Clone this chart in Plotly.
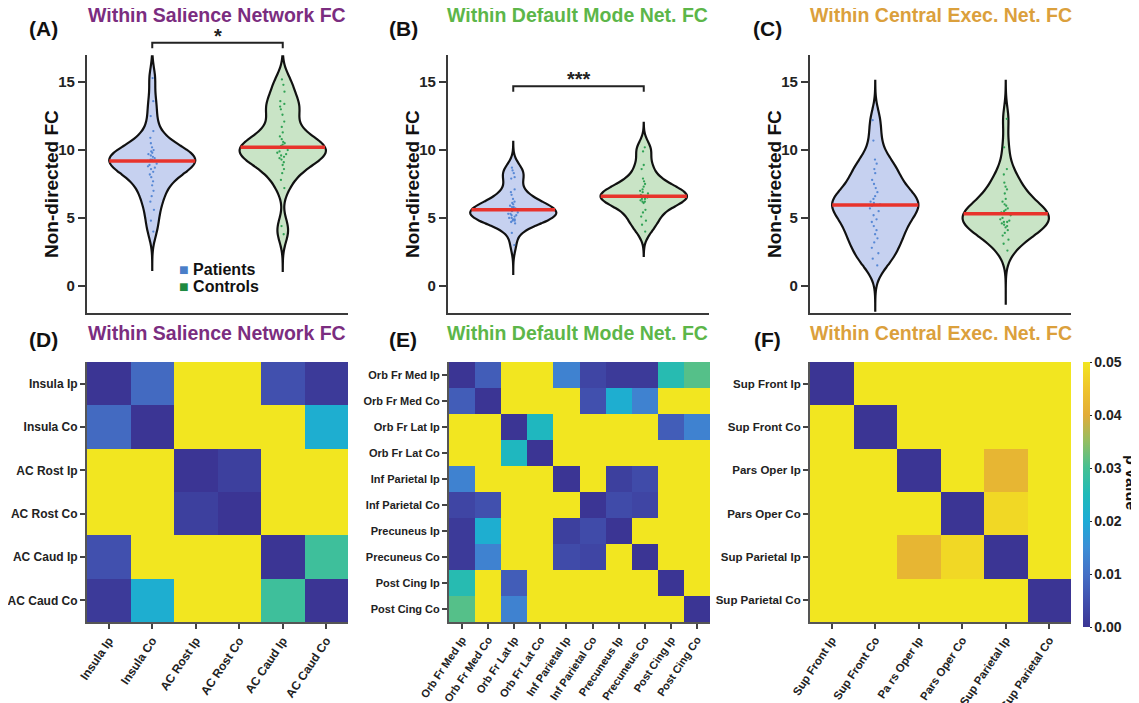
import numpy as np
import plotly.graph_objects as go

PAGE_W, PAGE_H = 1139, 703
OFF = 8                      # the html body margin shifts the figure by 8 px
W, H = PAGE_W - OFF, PAGE_H - OFF

# ---------------- data ----------------
groups = ["Patients", "Controls"]

sn_patients = [15.3, 13.6, 12.5, 11.4, 10.9, 10.5, 10.2, 10.0, 9.9, 9.8, 9.7, 9.6, 9.5, 9.4, 9.3,
               9.3, 9.2, 9.2, 9.0, 8.9, 8.8, 8.7, 8.6, 8.4, 8.2, 8.0, 7.7, 7.4, 7.0, 6.6, 6.2, 5.6,
               4.8, 4.0]
sn_controls = [15.2, 14.8, 14.3, 13.6, 13.4, 13.2, 13.0, 12.6, 12.1, 11.7, 11.3, 11.0, 10.8, 10.6, 10.5,
               10.4, 10.3, 10.2, 10.2, 10.0, 9.9, 9.8, 9.7, 9.6, 9.5, 9.4, 9.3, 9.1, 8.9, 8.6, 8.3, 7.8,
               7.2, 4.4, 3.8]
dmn_patients = [8.7, 8.5, 8.3, 8.0, 7.9, 7.1, 6.9, 6.7, 6.4, 6.2, 6.1, 6.0, 5.9, 5.8, 5.8, 5.7, 5.7,
                5.6, 5.6, 5.5, 5.4, 5.3, 5.3, 5.2, 5.2, 5.1, 5.0, 5.0, 4.9, 4.9, 4.8, 4.8, 4.7, 4.6,
                3.9, 3.0]
dmn_controls = [10.2, 9.9, 8.9, 8.6, 7.9, 7.7, 7.5, 7.3, 7.1, 7.0, 6.9, 6.8, 6.7, 6.6, 6.5, 6.4, 6.4,
                6.3, 6.2, 6.2, 6.1, 5.6, 5.4, 5.1, 4.8, 4.5, 4.0]
cen_patients = [12.2, 10.7, 9.3, 9.0, 8.6, 8.3, 7.8, 7.5, 7.2, 6.9, 6.6, 6.4, 6.2, 6.1, 6.0, 5.9, 5.7,
                5.5, 5.2, 4.9, 4.7, 4.4, 4.1, 3.8, 3.5, 3.2, 2.8, 2.4, 2.0, 1.5]
cen_controls = [12.3, 10.2, 8.6, 8.2, 7.6, 7.3, 7.1, 6.8, 6.4, 6.2, 6.0, 5.9, 5.7, 5.6, 5.5, 5.4, 5.3,
                5.2, 5.0, 4.9, 4.8, 4.7, 4.7, 4.6, 4.5, 4.4, 4.3, 4.1, 3.9, 3.7, 3.4, 3.1, 2.6]

spans = {
    "sn": ([1.1, 16.9], [1.1, 16.9]),
    "dmn": ([0.8, 10.6], [2.2, 12.0]),
    "cen": ([-1.9, 15.1], [-1.4, 15.1]),
}
bandwidths = {"sn": 0.8, "dmn": 0.6, "cen": 0.9}

# significance brackets: (panel, level, label)
sig_marks = [("sn", 17.9, "*"), ("dmn", 14.7, "***")]

y_ticks = [0, 5, 10, 15]
y_range = [-2, 17]

sn_regions = ["Insula Ip", "Insula Co", "AC Rost Ip", "AC Rost Co", "AC Caud Ip", "AC Caud Co"]
dmn_regions = ["Orb Fr Med Ip", "Orb Fr Med Co", "Orb Fr Lat Ip", "Orb Fr Lat Co", "Inf Parietal Ip",
               "Inf Parietal Co", "Precuneus Ip", "Precuneus Co", "Post Cing Ip", "Post Cing Co"]
cen_regions = ["Sup Front Ip", "Sup Front Co", "Pars Oper Ip", "Pars Oper Co", "Sup Parietal Ip",
               "Sup Parietal Co"]
cen_xlabels = ["Sup Front Ip", "Sup Front Co", "Pa rs Oper Ip", "Pars Oper Co", "Sup Parietal Ip",
               "Sup Parietal Co"]

Y = 0.05
sn_p = [
    [0.000, 0.009, Y, Y, 0.005, 0.001],
    [0.009, 0.000, Y, Y, Y, 0.021],
    [Y, Y, 0.000, 0.002, Y, Y],
    [Y, Y, 0.002, 0.000, Y, Y],
    [0.005, Y, Y, Y, 0.000, 0.029],
    [0.001, 0.021, Y, Y, 0.029, 0.000],
]
dmn_p = [
    [0.000, 0.007, Y, Y, 0.013, 0.003, 0.001, 0.001, 0.026, 0.031],
    [0.007, 0.000, Y, Y, Y, 0.005, 0.021, 0.013, Y, Y],
    [Y, Y, 0.000, 0.024, Y, Y, Y, Y, 0.007, 0.013],
    [Y, Y, 0.024, 0.000, Y, Y, Y, Y, Y, Y],
    [0.013, Y, Y, Y, 0.000, Y, 0.002, 0.004, Y, Y],
    [0.003, 0.005, Y, Y, Y, 0.000, 0.004, 0.003, Y, Y],
    [0.001, 0.021, Y, Y, 0.002, 0.004, 0.000, Y, Y, Y],
    [0.001, 0.013, Y, Y, 0.004, 0.003, Y, 0.000, Y, Y],
    [0.026, Y, 0.007, Y, Y, Y, Y, Y, 0.000, Y],
    [0.031, Y, 0.013, Y, Y, Y, Y, Y, Y, 0.000],
]
cen_p = [
    [0.000, Y, Y, Y, Y, Y],
    [Y, 0.000, Y, Y, Y, Y],
    [Y, Y, 0.000, Y, 0.042, Y],
    [Y, Y, Y, 0.000, 0.048, Y],
    [Y, Y, 0.042, 0.048, 0.000, Y],
    [Y, Y, Y, Y, Y, 0.000],
]
cbar_ticks = [0.00, 0.01, 0.02, 0.03, 0.04, 0.05]

# ---------------- style ----------------
FONT = "Liberation Sans, Arial, Helvetica, sans-serif"
AXC = "#3a3a3a"
titles = {
    "sn": ("Within Salience Network FC", "#7b2d80"),
    "dmn": ("Within Default Mode Net. FC", "#5cb649"),
    "cen": ("Within Central Exec. Net. FC", "#dba03c"),
}
fills = {"Patients": "#c6d1f0", "Controls": "#c9e4c6"}
dots = {"Patients": "#4a7fd2", "Controls": "#1f9a48"}
legend_sq = {"Patients": "#4a7ec8", "Controls": "#1e8a40"}
RED = "#e8332c"
parula = [
    [0.0, "#3b3594"], [0.1, "#4150ae"], [0.2, "#4470c6"], [0.3, "#3c8ed6"],
    [0.4, "#1dabd6"], [0.5, "#20bab9"], [0.6, "#45c093"], [0.7, "#93be62"],
    [0.8, "#e2ac38"], [0.9, "#efc42c"], [1.0, "#f2e620"],
]
VW = 0.66  # violin width in category units


def px(x):
    """page x pixel -> paper fraction"""
    return (x - OFF) / W


def py(y):
    """page y pixel -> paper fraction"""
    return 1 - (y - OFF) / H


def xdom(left, width):
    return [px(left), px(left + width)]


def ydom(top, bottom):
    return [py(bottom), py(top)]


def kde_halfwidth(vals, bw, span, y0):
    """Half width of a plotly 'scalemode=width' violin at level y0 (Gaussian KDE)."""
    v = np.asarray(vals, dtype=float)[:, None]
    grid = np.linspace(span[0], span[1], 500)
    dens = np.exp(-0.5 * ((grid - v) / bw) ** 2).sum(axis=0)
    d0 = np.exp(-0.5 * ((y0 - v) / bw) ** 2).sum()
    return VW / 2 * d0 / dens.max()


panels = ["sn", "dmn", "cen"]
viol_data = {"sn": (sn_patients, sn_controls), "dmn": (dmn_patients, dmn_controls),
             "cen": (cen_patients, cen_controls)}
heat_data = {"sn": (sn_p, sn_regions, sn_regions), "dmn": (dmn_p, dmn_regions, dmn_regions),
             "cen": (cen_p, cen_regions, cen_xlabels)}
heat_font = {"sn": 12, "dmn": 11, "cen": 11.5}
viol_left = [87, 448, 810]
heat_left = [87, 449, 810]
PW = 261

fig = go.Figure()
layout = dict(width=W, height=H, margin=dict(l=0, r=0, t=0, b=0, autoexpand=False),
              paper_bgcolor="white", plot_bgcolor="white", showlegend=False,
              font=dict(family=FONT, color="#111"))
annotations = []
shapes = []

for i, key in enumerate(panels):
    ax = i + 1
    xa, ya = ("x" if ax == 1 else f"x{ax}"), ("y" if ax == 1 else f"y{ax}")
    for g, (grp, vals) in enumerate(zip(groups, viol_data[key])):
        fig.add_trace(go.Violin(
            x0=g + 1, y=vals, name=grp, xaxis=xa, yaxis=ya,
            line=dict(color="#111111", width=2.2), fillcolor=fills[grp],
            points="all", pointpos=0, jitter=0.13,
            marker=dict(size=2.3, color=dots[grp], opacity=0.9),
            spanmode="manual", span=spans[key][g], bandwidth=bandwidths[key],
            width=VW, scalemode="width", hoverinfo="skip", showlegend=False,
        ))
        med = float(np.median(vals))
        hw = kde_halfwidth(vals, bandwidths[key], spans[key][g], med)
        fig.add_trace(go.Scatter(x=[g + 1 - hw, g + 1 + hw], y=[med, med], mode="lines",
                                 line=dict(color=RED, width=3.5), xaxis=xa, yaxis=ya,
                                 hoverinfo="skip", showlegend=False))
    layout["xaxis" + ("" if ax == 1 else str(ax))] = dict(
        domain=xdom(viol_left[i], PW), range=[0.5, 2.5], type="linear", automargin=False,
        showline=True, linecolor=AXC, linewidth=2.2, showticklabels=False,
        ticks="", showgrid=False, zeroline=False, anchor=ya)
    layout["yaxis" + ("" if ax == 1 else str(ax))] = dict(
        domain=ydom(55, 313), range=y_range, tickvals=y_ticks, automargin=False,
        showline=True, linecolor=AXC, linewidth=2.2, ticks="outside", ticklen=7,
        tickwidth=2, tickcolor=AXC, showgrid=False, zeroline=False, anchor=xa,
        tickfont=dict(size=15, weight="bold", color="#222"))
    # y axis title
    annotations.append(dict(x=px(viol_left[i] - 36), y=py(184), xref="paper", yref="paper",
                            text="Non-directed FC", textangle=-90, showarrow=False,
                            xanchor="center", yanchor="middle",
                            font=dict(size=19, weight="bold", color="#111")))

    # heatmap
    hx = i + 4
    hxa, hya = f"x{hx}", f"y{hx}"
    z, regs, xl = heat_data[key]
    hm = go.Heatmap(z=z, x=xl, y=regs, xaxis=hxa, yaxis=hya, zmin=0, zmax=0.05,
                    colorscale=parula, hoverinfo="skip", showscale=(key == "cen"))
    if key == "cen":
        hm.colorbar = dict(x=px(1083), xanchor="left", y=py(362), yanchor="top",
                           len=265 / H, lenmode="fraction", thickness=7, xpad=0, ypad=0,
                           outlinewidth=0, ticks="outside", ticklen=2, tickcolor="#222",
                           tickvals=cbar_ticks, tickformat=".2f",
                           tickfont=dict(size=14, weight="bold", color="#222"))
    fig.add_trace(hm)
    hf = heat_font[key]
    layout[f"xaxis{hx}"] = dict(domain=xdom(heat_left[i], PW), anchor=hya, type="category",
                                automargin=False,
                                showline=True, linecolor="#555", linewidth=2, ticks="outside",
                                ticklen=5, tickwidth=1.5, tickcolor="#444", tickangle=-56,
                                tickfont=dict(size=hf, weight="bold", color="#222"),
                                showgrid=False, zeroline=False)
    layout[f"yaxis{hx}"] = dict(domain=ydom(362, 622), anchor=hxa, type="category",
                                autorange="reversed", showline=True, linecolor="#555",
                                automargin=False,
                                linewidth=2, ticks="outside", ticklen=5, tickwidth=1.5,
                                tickcolor="#444",
                                tickfont=dict(size=hf, weight="bold", color="#222"),
                                showgrid=False, zeroline=False)

    # titles and panel letters
    tcenter = [217, 577, 941][i]
    lcenter = [43, 403, 767][i]
    ttxt, tcol = titles[key]
    for ty, ly, letter in [(15, 29, "ABC"[i]), (333, 339, "DEF"[i])]:
        annotations.append(dict(x=px(tcenter), y=py(ty), xref="paper", yref="paper",
                                text=ttxt, showarrow=False, xanchor="center", yanchor="middle",
                                font=dict(size=19.5, weight="bold", color=tcol)))
        annotations.append(dict(x=px(lcenter), y=py(ly), xref="paper", yref="paper",
                                text=f"({letter})", showarrow=False, xanchor="center",
                                yanchor="middle", font=dict(size=21, weight="bold", color="#111")))

# significance brackets
for key, level, label in sig_marks:
    ax = panels.index(key) + 1
    xa = "x" if ax == 1 else f"x{ax}"
    ya = "y" if ax == 1 else f"y{ax}"
    top = (level - y_range[0]) / (y_range[1] - y_range[0])
    bot = (level - 0.4 - y_range[0]) / (y_range[1] - y_range[0])
    shapes.append(dict(type="path", xref=xa, yref=ya + " domain",
                       path=f"M 1,{bot} L 1,{top} L 2,{top} L 2,{bot}",
                       line=dict(color="#222", width=2)))
    annotations.append(dict(x=1.5, y=top, xref=xa, yref=ya + " domain", text=label,
                            showarrow=False, yanchor="bottom", yshift=-6,
                            font=dict(size=20, weight="bold", color="#222")))

# legend
for k, grp in enumerate(groups):
    annotations.append(dict(x=px(177), y=py(270 + 16 * k), xref="paper", yref="paper",
                            text=f"<span style='color:{legend_sq[grp]}'>■</span> {grp}",
                            showarrow=False, xanchor="left", yanchor="middle",
                            font=dict(size=16, weight="bold", color="#111")))

# colorbar title
annotations.append(dict(x=px(1131), y=py(482), xref="paper", yref="paper", text="p value",
                        textangle=90, showarrow=False, xanchor="center", yanchor="middle",
                        font=dict(size=16, weight="bold", color="#111")))

layout["annotations"] = annotations
layout["shapes"] = shapes
fig.update_layout(**layout)
fig.write_html("out.html")
